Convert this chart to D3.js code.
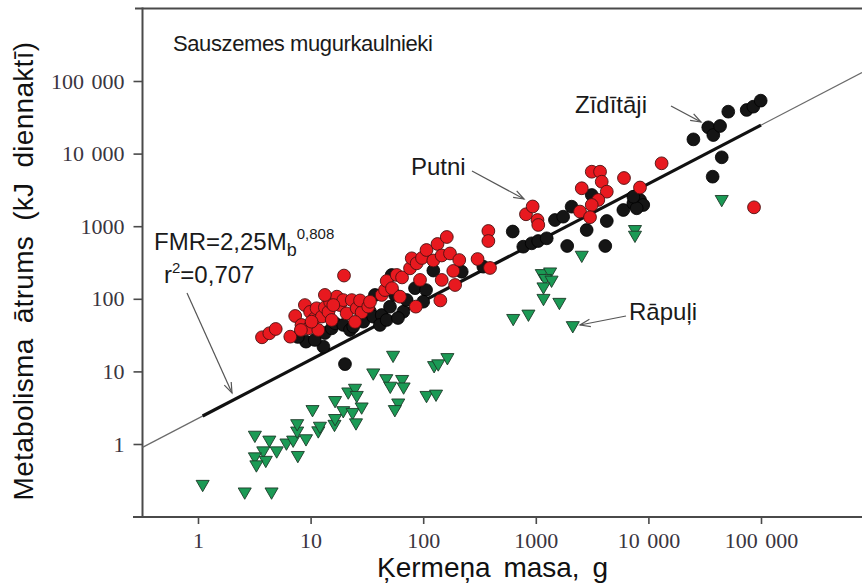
<!DOCTYPE html>
<html><head><meta charset="utf-8">
<script src="https://cdn.jsdelivr.net/npm/d3@7"></script>
<style>body{margin:0;background:#fff}svg{display:block}</style>
</head><body><svg id="c" width="862" height="584"></svg>
<script>
const tickValues = [1, 10, 100, 1000, 10000, 100000];
const tickLabels = ["1", "10", "100", "1000", "10 000", "100 000"];

// Putni (birds): body mass g, FMR kJ/day
const birdMass = [3.7,4.3,4.9,6.6,7.3,8.3,8.9,9.9,10.9,11.3,12.6,13.4,14.4,14.9,17.1,18.2,19.5,20.9,19.8,23.2,25.7,28.4,27.5,32.5,33.7,24.8,42.8,45.8,47.4,52.8,58.2,62.2,64.9,76.4,79.1,87.5,93.7,97.6,107,123,134,146,146,162,173,185,192,209,142,86,304,379,379,392,15.9,818,938,1035,1052,2560,3140,3720,3850,4270,3590,3140,2470,3030,6070,8420,13100,86700,9.55,11.7,10.2,15.4,13.4,8.2];
const birdFMR  = [29.5,33.5,38.4,30.1,58,43.6,82,66,54,74,57,76,66,91,107,82,96,63,209,96,74,65,95,78,91,48,113,132,176,140,213,107,197,263,361,308,182,365,470,337,569,395,182,710,421,242,155,342,95,78,353,859,625,266,82,1460,1870,1217,1040,3330,5630,5630,4100,2990,2300,1960,1590,1330,4610,3410,7350,1820,39.2,37.2,48.4,51.1,113,37.2];

// Zīdītāji (mammals)
const mammalMass = [13.0,20.2,9.1,7.7,10.9,13.4,15.4,16.5,19.5,22.4,23.9,29.4,33.7,36,42.8,37.3,50.7,56.2,52.5,66.6,71.3,84.6,106,100,123,220,342,624,774,920,1050,1250,1480,1750,2080,1900,2830,4270,4140,3140,5990,7350,8420,9000,7870,7350,25100,34000,37700,43300,51200,74600,85500,99400,44800,37200,41.3,47.4,59.7];
const mammalFMR  = [21.9,12.6,25.7,29.8,27.1,33.8,39.2,46,43.6,37.2,41.3,48.4,66.4,56.7,59.8,113,77.8,113,213,66.4,96.2,140,132,91.2,245,236,277,845,522,581,625,681,1217,1352,1857,534,887,1180,534,2690,1671,2067,2296,1959,1765,2548,15700,23000,18000,24000,37800,39900,44300,53600,8890,4810,43.6,51.1,54.4];

// Rāpuļi (reptiles)
const reptileMass = [1.1,2.6,4.5,3.2,4.3,5.0,3.8,3.2,4.0,3.3,6.1,7.0,7.6,7.6,9.1,7.7,10.4,11.7,12.1,16.3,16.5,16.5,19.5,21.6,24.8,25.7,23.6,28.4,25.3,36,47,51,65,67,60,56,54,107,130,125,136,164,7600,7600,2560,1130,1340,1210,1380,1170,1170,1620,860,630,2130,44800];
const reptileFMR  = [0.28,0.22,0.22,1.33,1.14,0.81,0.81,0.67,0.60,0.52,1.04,1.14,1.52,1.92,1.19,0.70,3.0,1.53,1.77,1.88,2.26,4.0,2.9,5.25,5.9,4.7,2.74,3.26,1.97,9.6,8.0,6.3,7.8,6.15,3.7,3.0,16.8,4.7,4.9,12.1,12.8,15.6,906,757,401,224,236,192,182,147,102,90,62,54,43,2350];

// Regression FMR = 2.25 * M^0.808, fitted over this mass range
const fitCoef = 2.25, fitExp = 0.808;
const fitRange = [1.1, 100000];

const svg = d3.select("#c");
const x = d3.scaleLog().domain([1, 1e5]).range([198, 761]);
const y = d3.scaleLog().domain([1, 1e5]).range([444, 81]);
const axisY = 517, axisX = 142.5, topY = 8.5, rightX = 862;
const frameCol = "#4a4a4a";

// frame lines
svg.append("line").attr("x1", 135).attr("x2", rightX).attr("y1", topY).attr("y2", topY)
  .attr("stroke", frameCol).attr("stroke-width", 2);
svg.append("line").attr("x1", axisX).attr("x2", axisX).attr("y1", topY - 1).attr("y2", axisY)
  .attr("stroke", frameCol).attr("stroke-width", 2);
svg.append("line").attr("x1", 133).attr("x2", rightX).attr("y1", axisY).attr("y2", axisY)
  .attr("stroke", frameCol).attr("stroke-width", 2);

// axes
const gx = svg.append("g").attr("transform", `translate(0,${axisY})`)
  .call(d3.axisBottom(x).tickValues(tickValues).tickFormat((d, i) => tickLabels[i]).tickSize(7).tickPadding(8));
const gy = svg.append("g").attr("transform", `translate(${axisX},0)`)
  .call(d3.axisLeft(y).tickValues(tickValues).tickFormat((d, i) => tickLabels[i]).tickSize(9).tickPadding(9));
[gx, gy].forEach(g => {
  g.select(".domain").remove();
  g.selectAll(".tick line").attr("stroke", frameCol).attr("stroke-width", 1.6);
  g.selectAll(".tick text").attr("font-family", "'Liberation Serif', 'Times New Roman', serif")
    .attr("font-size", 22).attr("fill", "#3a3540").style("word-spacing", "2px");
});

// regression line
const fit = m => fitCoef * Math.pow(m, fitExp);
const xMin = x.invert(axisX), xMax = x.invert(rightX);
svg.append("line").attr("x1", x(xMin)).attr("y1", y(fit(xMin))).attr("x2", x(xMax)).attr("y2", y(fit(xMax)))
  .attr("stroke", "#6a6a6a").attr("stroke-width", 1.2);
svg.append("line").attr("x1", x(fitRange[0])).attr("y1", y(fit(fitRange[0])))
  .attr("x2", x(fitRange[1])).attr("y2", y(fit(fitRange[1])))
  .attr("stroke", "#111").attr("stroke-width", 3.2);

// reptiles
const tri = d3.symbol().type(d3.symbolTriangle).size(74);
svg.append("g").selectAll("path").data(reptileMass.map((m, i) => [m, reptileFMR[i]])).join("path")
  .attr("d", tri)
  .attr("transform", d => `translate(${x(d[0])},${y(d[1])}) rotate(180)`)
  .attr("fill", "#1b9a55").attr("stroke", "#1d3a28").attr("stroke-width", 0.9);

// mammals
svg.append("g").selectAll("circle").data(mammalMass.map((m, i) => [m, mammalFMR[i]])).join("circle")
  .attr("cx", d => x(d[0])).attr("cy", d => y(d[1])).attr("r", 6.4)
  .attr("fill", "#151515").attr("stroke", "#000").attr("stroke-width", 0.8);

// birds
svg.append("g").selectAll("circle").data(birdMass.map((m, i) => [m, birdFMR[i]])).join("circle")
  .attr("cx", d => x(d[0])).attr("cy", d => y(d[1])).attr("r", 6.4)
  .attr("fill", "#e8191f").attr("stroke", "#4a1212").attr("stroke-width", 0.9);

// text
const sans = "'Liberation Sans', Arial, Helvetica, sans-serif";
function label(t, px, py, size) {
  return svg.append("text").attr("x", px).attr("y", py).attr("font-family", sans)
    .attr("font-size", size).attr("fill", "#1a1a1a").text(t);
}
label("Sauszemes mugurkaulnieki", 173, 51, 22).style("letter-spacing", "-0.4px");
label("Zīdītāji", 575, 113, 24);
label("Putni", 411, 175, 24);
label("Rāpuļi", 629, 320, 24);

const fmr = svg.append("text").attr("x", 154).attr("y", 250).attr("font-family", sans)
  .attr("font-size", 24).attr("fill", "#1a1a1a");
fmr.append("tspan").text("FMR=2,25M");
fmr.append("tspan").attr("font-size", 18).attr("dy", 6).text("b");
fmr.append("tspan").attr("font-size", 15).attr("dy", -17).text("0,808");
const r2 = svg.append("text").attr("x", 164).attr("y", 283).attr("font-family", sans)
  .attr("font-size", 24).attr("fill", "#1a1a1a");
r2.append("tspan").text("r");
r2.append("tspan").attr("font-size", 15).attr("dy", -10).text("2");
r2.append("tspan").attr("dy", 10).text("=0,707");

// arrows
function arrow(x1, y1, x2, y2) {
  const g = svg.append("g").attr("stroke", "#555").attr("stroke-width", 1.2).attr("fill", "none");
  g.append("line").attr("x1", x1).attr("y1", y1).attr("x2", x2).attr("y2", y2);
  const a = Math.atan2(y2 - y1, x2 - x1), L = 11, w = 0.35;
  g.append("polyline").attr("points", [
    [x2 - L * Math.cos(a - w), y2 - L * Math.sin(a - w)], [x2, y2],
    [x2 - L * Math.cos(a + w), y2 - L * Math.sin(a + w)]].map(p => p.join(",")).join(" "));
}
arrow(187, 293, 232, 393);
arrow(472, 171, 524, 199);
arrow(671, 106, 701, 122);
arrow(626, 316, 580, 325);

// axis titles
svg.append("text").attr("transform", "translate(33,271) rotate(-90)").attr("text-anchor", "middle")
  .attr("font-family", sans).attr("font-size", 28).attr("fill", "#111")
  .style("word-spacing", "7px").style("letter-spacing", "0.3px")
  .text("Metabolisma ātrums (kJ diennaktī)");
svg.append("text").attr("x", 377).attr("y", 577).attr("font-family", sans).attr("font-size", 28)
  .attr("fill", "#111").style("word-spacing", "5px").text("Ķermeņa masa, g");
</script></body></html>
